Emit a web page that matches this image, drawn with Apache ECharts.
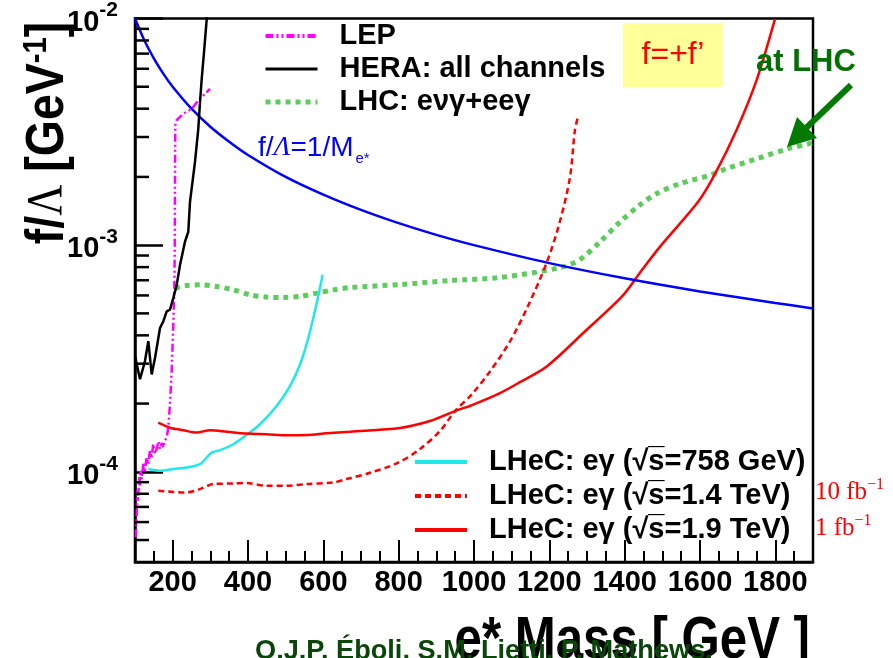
<!DOCTYPE html>
<html>
<head>
<meta charset="utf-8">
<script src="https://cdn.jsdelivr.net/npm/echarts@6/dist/echarts.min.js"></script>
<style>
html,body{margin:0;padding:0;background:#fff;}
#chart{width:893px;height:658px;}
</style>
</head>
<body>
<div id="chart"></div>
<script>
// ---------- data (e* mass [GeV], f/Lambda [GeV^-1]) ----------
const lep = [[102.7,5.14e-5],[104.5,6.54e-5],[106.1,8.25e-5],[108,7.4e-5],[111.4,9.6e-5],[113,8.6e-5],[115.1,1.01e-4],[118,9.3e-5],[122,1.085e-4],[126,1.0e-4],[131,1.156e-4],[135,1.08e-4],[139.8,1.237e-4],[144,1.15e-4],[148.6,1.327e-4],[153,1.2e-4],[157.6,1.262e-4],[162,1.36e-4],[166.4,1.26e-4],[171,1.34e-4],[175.1,1.279e-4],[180,1.38e-4],[184.2,1.415e-4],[188.4,1.565e-4],[192.9,1.99e-4],[197.4,2.78e-4],[201.7,4.47e-4],[204.5,6.46e-4],[205.5,9.36e-4],[206,1.6e-3],[206.5,2.33e-3],[207,3.39e-3],[210.7,3.56e-3],[228.2,3.8e-3],[250.5,3.99e-3],[268,4.35e-3],[277.1,4.5e-3],[299.1,4.89e-3]];
const hera = [[100,3.24e-4],[113.3,2.56e-4],[126.5,3.08e-4],[135.3,3.77e-4],[144.3,2.69e-4],[153.1,3.18e-4],[166.4,4.31e-4],[175.1,4.61e-4],[184.2,5.1e-4],[192.9,5.19e-4],[201.7,5.84e-4],[210.7,6.68e-4],[219.5,8.18e-4],[232.7,1.036e-3],[241.5,1.146e-3],[246,1.553e-3],[259.3,2.33e-3],[268,3.26e-3],[272.6,4.27e-3],[277.1,5.41e-3],[283.2,7.09e-3],[290.4,9.93e-3],[291,1.05e-2]];
const lhc = [[206.2,6.46e-4],[237.3,6.64e-4],[272.6,6.68e-4],[316.9,6.57e-4],[361,6.35e-4],[405.3,6.04e-4],[449.7,5.9e-4],[493.7,5.88e-4],[538,5.94e-4],[582.4,6.14e-4],[626.5,6.35e-4],[670.8,6.5e-4],[803.5,6.7e-4],[936.3,6.98e-4],[1069,7.2e-4],[1228,7.96e-4],[1281,8.63e-4],[1335,1.036e-3],[1388,1.268e-3],[1441,1.507e-3],[1485,1.689e-3],[1547,1.869e-3],[1627,2.035e-3],[1671,2.176e-3],[1751,2.406e-3],[1834,2.664e-3],[1888,2.8e-3],[1900,2.87e-3]];
const lhec758 = [[135.3,1.028e-4],[166.4,1.01e-4],[201.7,1.028e-4],[237.3,1.044e-4],[272.6,1.081e-4],[290.4,1.156e-4],[303.6,1.216e-4],[325.7,1.246e-4],[361,1.323e-4],[396.6,1.454e-4],[431.9,1.621e-4],[476.2,1.95e-4],[511.5,2.388e-4],[538.1,2.973e-4],[560.1,3.89e-4],[582.4,5.55e-4],[598.3,7.4e-4]];
const lhec14 = [[161.9,8.25e-5],[237.3,8.11e-5],[272.6,8.39e-5],[307.9,8.83e-5],[361,8.88e-5],[396.6,8.92e-5],[449.7,8.68e-5],[502.8,8.68e-5],[555.9,8.83e-5],[626.5,8.97e-5],[662,9.29e-5],[724,9.9e-5],[798,1.095e-4],[857,1.262e-4],[910,1.514e-4],[949.6,1.853e-4],[994.7,2.203e-4],[1043,2.78e-4],[1096,3.77e-4],[1143,5.37e-4],[1194,8.46e-4],[1228,1.268e-3],[1255,2.0e-3],[1268,3.22e-3],[1277,3.73e-3]];
const lhec19 = [[161.9,1.647e-4],[192.9,1.565e-4],[228.2,1.526e-4],[263.8,1.489e-4],[299.1,1.526e-4],[343.4,1.504e-4],[396.6,1.474e-4],[449.7,1.465e-4],[502.8,1.45e-4],[555.9,1.454e-4],[609,1.479e-4],[670.8,1.504e-4],[803.5,1.561e-4],[883,1.675e-4],[949.6,1.853e-4],[994.7,1.97e-4],[1069,2.225e-4],[1122,2.486e-4],[1194,2.923e-4],[1295,4.17e-4],[1393,5.94e-4],[1443,7.65e-4],[1494,9.85e-4],[1595,1.553e-3],[1640,2.062e-3],[1698,3.25e-3],[1751,5.39e-3],[1799,9.93e-3]];
const invMass = [[100,0.01],[125,0.008],[150,0.00667],[175,0.00571],[200,0.005],[250,0.004],[300,0.00333],[350,0.00286],[400,0.0025],[500,0.002],[600,0.00167],[700,0.00143],[800,0.00125],[900,0.00111],[1000,0.001],[1200,0.000833],[1400,0.000714],[1600,0.000625],[1800,0.000556],[1900,0.000526]];
const yMinorTicks = [5e-5,6e-5,7e-5,8e-5,9e-5,2e-4,3e-4,4e-4,5e-4,6e-4,7e-4,8e-4,9e-4,2e-3,3e-3,4e-3,5e-3,6e-3,7e-3,8e-3,9e-3];
const names = ['LEP','HERA: all channels','LHC: e\u03bd\u03b3+ee\u03b3','LHeC: e\u03b3 (\u221as\u0305=758 GeV)','LHeC: e\u03b3 (\u221as\u0305=1.4 TeV)','LHeC: e\u03b3 (\u221as\u0305=1.9 TeV)'];
const xMin = 100, xMax = 1900, yMin = 4e-5, yMax = 1e-2;

const FONT = 'Liberation Sans';
const NARROW_SCALE = 0.82;
const chart = echarts.init(document.getElementById('chart'));

const legendText = {fontFamily: FONT, fontWeight: 'bold', fontSize: 29, color: '#000', lineHeight: 30, padding: [0,0,0,17]};
const legendCommon = {orient: 'vertical', itemWidth: 52, itemHeight: 14, selectedMode: false, textStyle: legendText,
  itemStyle: {color: 'rgba(0,0,0,0)', borderWidth: 0, opacity: 0}};
const legendWidths = [4, 3, 5, 4, 4, 4];
function legendItems(from, to) {
  return names.slice(from, to).map((n, i) => ({name: n, lineStyle: {width: legendWidths[from + i]}}));
}

function lineSeries(name, data, color, width, type, smooth, z) {
  return {name, type: 'line', data, showSymbol: false, symbol: 'none', smooth: smooth, clip: true, z: z || 3,
    lineStyle: {color, width, type, cap: 'butt'}, itemStyle: {color}};
}

const option = {
  animation: false,
  backgroundColor: '#fff',
  grid: {left: 135, right: 80, top: 16, bottom: 96, show: true, borderColor: '#000', borderWidth: 2.5, backgroundColor: 'transparent'},
  xAxis: {
    type: 'value', min: xMin, max: xMax, splitNumber: 9,
    axisLine: {lineStyle: {color: '#000', width: 2.5}},
    axisTick: {inside: true, length: 22, lineStyle: {color: '#000', width: 2}},
    minorTick: {show: true, splitNumber: 4, length: 11, lineStyle: {color: '#000', width: 2}},
    splitLine: {show: false},
    axisLabel: {showMinLabel: false, showMaxLabel: false, fontFamily: FONT, fontWeight: 'bold', fontSize: 29, color: '#000', margin: 6,
      formatter: function (v) { return String(v); }}
  },
  yAxis: {
    type: 'log', logBase: 10, min: yMin, max: yMax,
    axisLine: {lineStyle: {color: '#000', width: 2.5}},
    axisTick: {inside: true, length: 28, lineStyle: {color: '#000', width: 2.5}},
    splitLine: {show: false},
    axisLabel: {
      showMinLabel: false, margin: 17,
      formatter: function (v) { const e = Math.round(Math.log10(v)); return '{b|10}{s|' + e + '}'; },
      rich: {
        b: {fontFamily: FONT, fontWeight: 'bold', fontSize: 29, lineHeight: 29, color: '#000', padding: [8,0,0,0]},
        s: {fontFamily: FONT, fontWeight: 'bold', fontSize: 21, lineHeight: 21, color: '#000', padding: [0,0,16,0]}
      }
    }
  },
  legend: [
    Object.assign({data: legendItems(0, 3), left: 258, top: 16, itemGap: 3}, legendCommon),
    Object.assign({data: legendItems(3, 6), left: 408, top: 442, itemGap: 4}, legendCommon)
  ],
  series: [
    lineSeries(names[0], lep, '#ff00ff', 2.5, [8,3,2,3,2,3], false, 4),
    lineSeries(names[1], hera, '#000000', 2.5, 'solid', false, 4),
    lineSeries(names[2], lhc, '#5ccc5c', 5, [5,5], 0.3, 3),
    lineSeries(names[3], lhec758, '#1ee8e8', 2.5, 'solid', 0.3, 3),
    lineSeries(names[4], lhec14, '#ff0000', 2.5, [6,4], 0.3, 3),
    lineSeries(names[5], lhec19, '#ff0000', 2.5, 'solid', 0.3, 3),
    lineSeries('1/M', invMass, '#0000ff', 2.5, 'solid', 0.3, 3),
    {
      name: 'yminor', type: 'custom', coordinateSystem: 'cartesian2d', z: 5,
      data: yMinorTicks.map(v => [xMin, v]),
      renderItem: function (params, api) {
        const p = api.coord([api.value(0), api.value(1)]);
        return {type: 'line', shape: {x1: p[0], y1: p[1], x2: p[0] + 14, y2: p[1]}, style: {stroke: '#000', lineWidth: 2.5}};
      }
    }
  ],
  graphic: [
    {type: 'rect', z: 1, shape: {x: 623, y: 23, width: 100, height: 64}, style: {fill: '#ffff99'}},
    {type: 'text', z: 10, x: 673, y: 55, style: {text: 'f=+f\u2019', fontFamily: FONT, fontSize: 32, fill: '#ff0000', align: 'center', verticalAlign: 'middle'}},
    {type: 'text', z: 10, x: 756, y: 62, style: {text: 'at LHC', fontFamily: FONT, fontWeight: 'bold', fontSize: 31, fill: '#007000', align: 'left', verticalAlign: 'middle'}},
    {type: 'line', z: 10, shape: {x1: 851, y1: 85, x2: 805, y2: 129}, style: {stroke: '#007a00', lineWidth: 6}},
    {type: 'polygon', z: 10, shape: {points: [[787,147],[817,138],[797,117]]}, style: {fill: '#007a00'}},
    {type: 'text', z: 10, x: 258, y: 148, style: {
      text: 'f/{L|\u039b}=1/M{sub|e*}', fontFamily: FONT, fontSize: 28, fill: '#0000ff', align: 'left', verticalAlign: 'middle',
      rich: {L: {fontFamily: 'Liberation Serif', fontStyle: 'italic', fontSize: 28, fill: '#0000ff'}, sub: {fontFamily: FONT, fontSize: 15, fill: '#0000ff', padding: [22,0,0,2]}}}},
    {type: 'text', z: 10, x: 815, y: 492, style: {
      text: '10 fb{s|\u22121}', fontFamily: 'Liberation Serif', fontSize: 25, fill: '#ff0000', align: 'left', verticalAlign: 'middle',
      rich: {s: {fontFamily: 'Liberation Serif', fontSize: 16, fill: '#ff0000', padding: [0,0,14,0]}}}},
    {type: 'text', z: 10, x: 815, y: 528, style: {
      text: '1 fb{s|\u22121}', fontFamily: 'Liberation Serif', fontSize: 25, fill: '#ff0000', align: 'left', verticalAlign: 'middle',
      rich: {s: {fontFamily: 'Liberation Serif', fontSize: 16, fill: '#ff0000', padding: [0,0,14,0]}}}},
    {type: 'text', z: 10, x: 48, y: 133, rotation: Math.PI / 2, scaleX: 0.86, style: {
      text: 'f/{L|\u039b} [GeV{s|-1}]', fontFamily: FONT, fontWeight: 'bold', fontSize: 54, fill: '#000', align: 'center', verticalAlign: 'middle',
      rich: {L: {fontFamily: 'Liberation Serif', fontWeight: 'normal', fontSize: 50, fill: '#000'}, s: {fontFamily: FONT, fontWeight: 'bold', fontSize: 34, fill: '#000', padding: [0,0,22,0]}}}},
    {type: 'text', z: 10, x: 810, y: 641, scaleX: NARROW_SCALE, style: {text: 'e* Mass [ GeV ]', fontFamily: FONT, fontWeight: 'bold', fontSize: 60, fill: '#000', align: 'right', verticalAlign: 'middle'}},
    {type: 'text', z: 11, x: 255, y: 651, scaleX: 0.97, style: {text: 'O.J.P. \u00c9boli, S.M. Lietti, P. Mathews,', fontFamily: FONT, fontWeight: 'bold', fontSize: 28, fill: '#0a460a', align: 'left', verticalAlign: 'middle'}}
  ]
};
chart.setOption(option);
</script>
</body>
</html>
